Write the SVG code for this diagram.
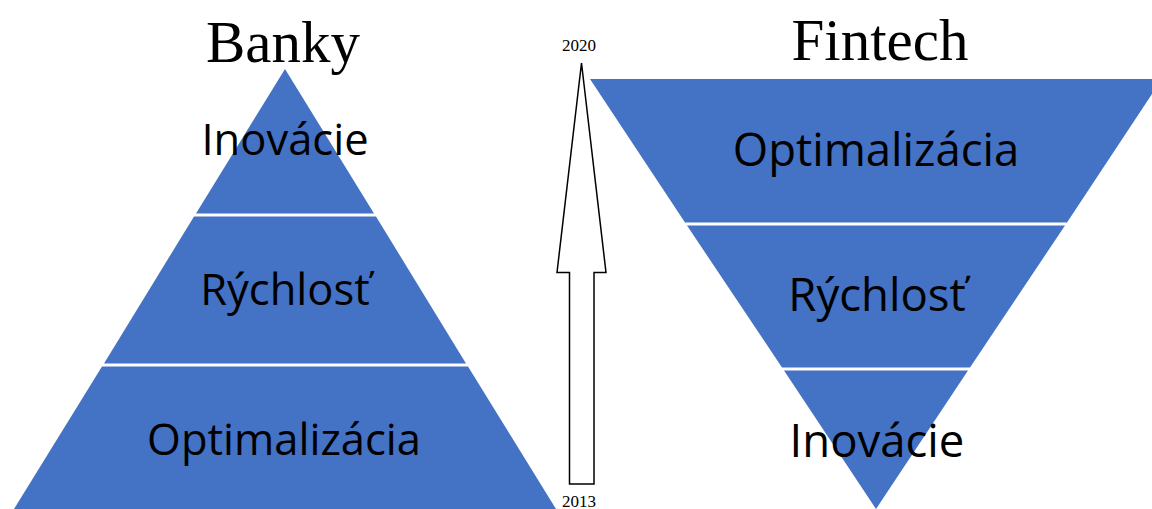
<svg xmlns="http://www.w3.org/2000/svg" width="1152" height="509" viewBox="0 0 1152 509">
<style>
.layer{fill:#4472C4}
.lbl{font-family:"Open Sans","Noto Sans",sans-serif;fill:#000;text-anchor:middle}
.l{font-size:43.5px}
.r{font-size:45.5px}
.title{font-family:"Liberation Serif","Times New Roman",serif;font-size:59px;fill:#000;text-anchor:middle}
.year{font-family:"Liberation Serif","Times New Roman",serif;font-size:17px;fill:#000;text-anchor:middle}
</style>
<rect width="1152" height="509" fill="#fff"/>
<text class="title" x="283" y="62">Banky</text>
<text class="title" x="880" y="60">Fintech</text>
<g id="banky-inovacie">
<polygon class="layer" points="285,69 374,213.5 196,213.5"/>
<text class="lbl l" x="285" y="155">Inovácie</text>
</g>
<g id="banky-rychlost">
<polygon class="layer" points="194,216.5 376,216.5 466,363.5 104,363.5"/>
<text class="lbl l" x="285" y="305">Rýchlosť</text>
</g>
<g id="banky-optimalizacia">
<polygon class="layer" points="102,366.5 468,366.5 556,509 14,509"/>
<text class="lbl l" x="284" y="455">Optimalizácia</text>
</g>
<g id="fintech-optimalizacia">
<polygon class="layer" points="590,79 1162,79 1067,222.5 685,222.5"/>
<text class="lbl r" x="876" y="166">Optimalizácia</text>
</g>
<g id="fintech-rychlost">
<polygon class="layer" points="687,225.5 1065,225.5 970,367.5 782,367.5"/>
<text class="lbl r" x="877" y="311">Rýchlosť</text>
</g>
<g id="fintech-inovacie">
<polygon class="layer" points="784,370.5 968,370.5 876,509"/>
<text class="lbl r" x="877" y="457">Inovácie</text>
</g>
<g id="connectors">
<polygon points="581.5,63 606,272.5 594,272.5 594,484 569.5,484 569.5,272.5 557,272.5" fill="#fff" stroke="#000" stroke-width="1.5"/>
</g>
<text class="year" x="579" y="51">2020</text>
<text class="year" x="579" y="507">2013</text>
</svg>
